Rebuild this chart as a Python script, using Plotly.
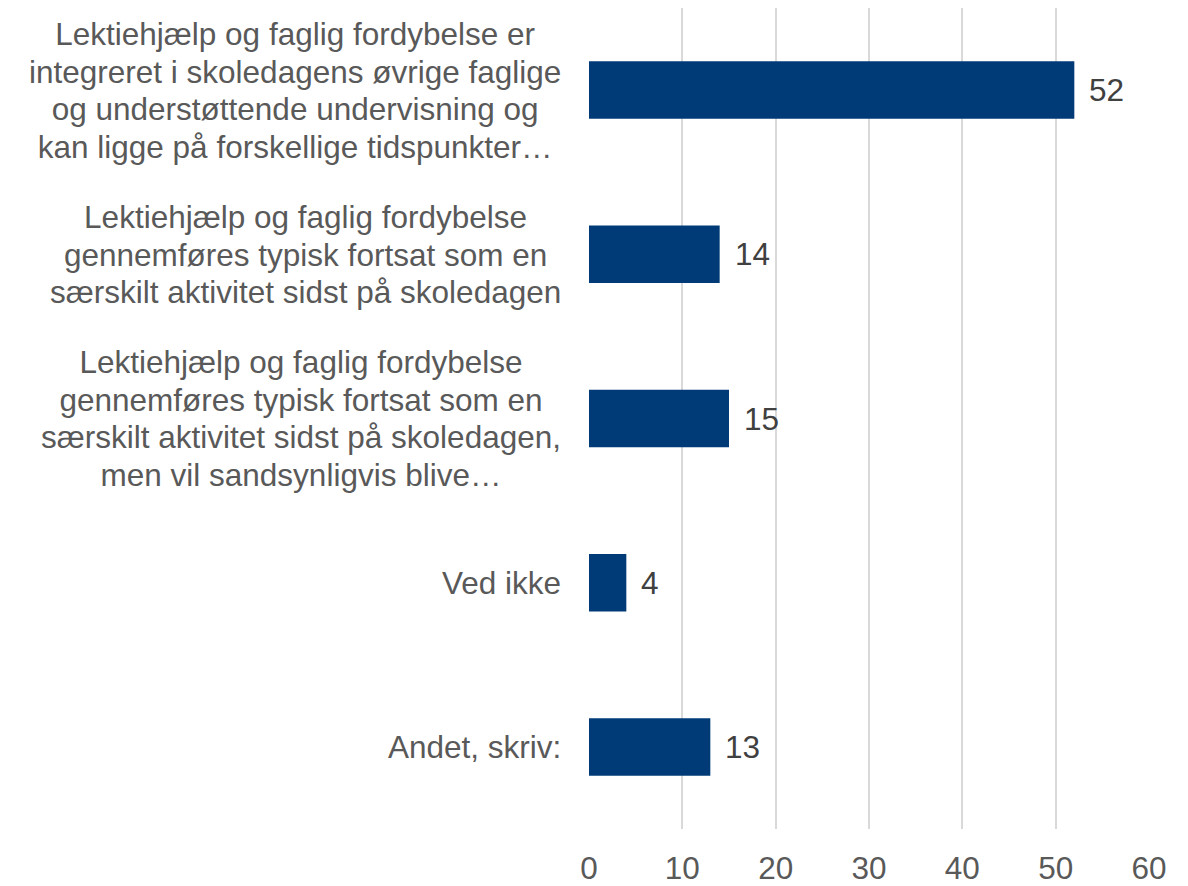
import plotly.graph_objects as go

categories = [
    "Lektiehjælp og faglig fordybelse er<br>integreret i skoledagens øvrige faglige<br>og understøttende undervisning og<br>kan ligge på forskellige tidspunkter…",
    "Lektiehjælp og faglig fordybelse<br>gennemføres typisk fortsat som en<br>særskilt aktivitet sidst på skoledagen",
    "Lektiehjælp og faglig fordybelse<br>gennemføres typisk fortsat som en<br>særskilt aktivitet sidst på skoledagen,<br>men vil sandsynligvis blive…",
    "Ved ikke",
    "Andet, skriv:",
]
values = [52, 14, 15, 4, 13]
tick_vals = [0, 10, 20, 30, 40, 50, 60]

BAR_COLOR = "#003B78"
LABEL_COLOR = "#595959"
VALUE_COLOR = "#404040"
FONT = "Liberation Sans, Arial, sans-serif"
FS = 31.5
BASE_FS = 29  # controls line spacing (1.3em)

fig = go.Figure()
fig.add_trace(go.Bar(
    x=values, y=categories, orientation="h",
    marker=dict(color=BAR_COLOR, line=dict(width=0)),
    hoverinfo="x+y",
))

annotations = []
for c in categories:
    txt = "<br>".join(
        f"<span style='font-size:{FS}px'>{line}</span>" for line in c.split("<br>")
    )
    annotations.append(dict(
        x=0, xref="paper", y=c, yref="y", text=txt, showarrow=False,
        xanchor="right", yanchor="middle", align="center", xshift=-26,
        font=dict(family=FONT, size=BASE_FS, color=LABEL_COLOR),
    ))
for c, v in zip(categories, values):
    annotations.append(dict(
        x=v, xref="x", y=c, yref="y", text=str(v), showarrow=False,
        xanchor="left", yanchor="middle", xshift=13,
        font=dict(family=FONT, size=FS, color=VALUE_COLOR),
    ))

fig.update_layout(
    width=1180, height=878,
    margin=dict(l=581, r=39, t=0, b=44),
    paper_bgcolor="white", plot_bgcolor="white",
    font=dict(family=FONT, size=FS, color=LABEL_COLOR),
    bargap=0.65,
    showlegend=False,
    annotations=annotations,
    xaxis=dict(
        range=[0, 60], tickvals=tick_vals, showgrid=True,
        gridcolor="#D9D9D9", gridwidth=1.5, zeroline=False,
        showline=False, ticks="", ticklabelstandoff=17,
        tickfont=dict(family=FONT, size=FS, color=LABEL_COLOR),
    ),
    yaxis=dict(
        autorange="reversed", showticklabels=False, showgrid=False,
        zeroline=False, showline=False, ticks="",
    ),
)

fig.write_html("out.html")
